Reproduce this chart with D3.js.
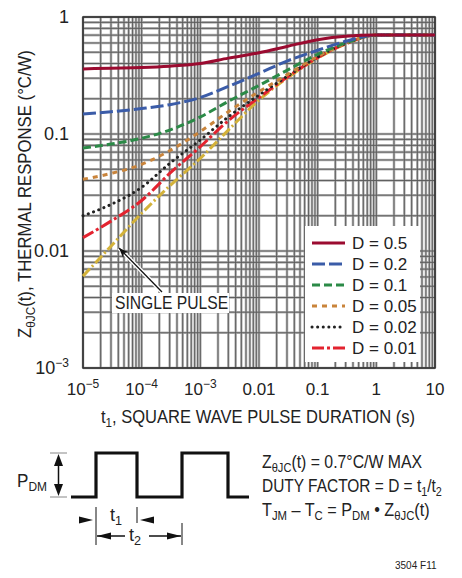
<!DOCTYPE html>
<html>
<head>
<meta charset="utf-8">
<script src="https://cdn.jsdelivr.net/npm/d3@7"></script>
<style>
  body { margin: 0; background: #fff; }
  svg text { font-family: 'Liberation Sans Narrow', 'Liberation Sans', Arial, sans-serif; fill: #222; }
</style>
</head>
<body>
<div id="chart"></div>
<script>
// pulse durations (s)
const times = [1e-5, 3e-5, 1e-4, 3e-4, 1e-3, 3e-3, 1e-2, 3e-2, 0.1, 0.3, 1, 3, 10];

// thermal response (°C/W) per duty cycle
const d50 = [0.36, 0.365, 0.37, 0.38, 0.40, 0.445, 0.495, 0.56, 0.64, 0.685, 0.70, 0.70, 0.70];
const d20 = [0.148, 0.155, 0.165, 0.178, 0.205, 0.255, 0.33, 0.42, 0.52, 0.62, 0.70, 0.70, 0.70];
const d10 = [0.076, 0.082, 0.092, 0.108, 0.14, 0.19, 0.26, 0.35, 0.48, 0.60, 0.70, 0.70, 0.70];
const d05 = [0.041, 0.046, 0.055, 0.072, 0.105, 0.155, 0.23, 0.32, 0.46, 0.595, 0.70, 0.70, 0.70];
const d02 = [0.020, 0.025, 0.035, 0.056, 0.089, 0.14, 0.215, 0.31, 0.455, 0.595, 0.70, 0.70, 0.70];
const d01 = [0.013, 0.018, 0.027, 0.046, 0.078, 0.13, 0.205, 0.305, 0.45, 0.59, 0.70, 0.70, 0.70];
const single = [0.0061, 0.011, 0.021, 0.036, 0.062, 0.108, 0.195, 0.30, 0.445, 0.59, 0.70, 0.70, 0.70];

const legendLabels = ["D = 0.5", "D = 0.2", "D = 0.1", "D = 0.05", "D = 0.02", "D = 0.01"];
const xTickLabels = [["10", "−5"], ["10", "−4"], ["10", "−3"], ["0.01"], ["0.1"], ["1"], ["10"]];
const yTickLabels = [["1"], ["0.1"], ["0.01"], ["10", "−3"]];

const series = [
  { values: d50, color: "#9b0b30", dash: null },
  { values: d20, color: "#3b5ca8", dash: "13,4" },
  { values: d10, color: "#2b8a47", dash: "8,4" },
  { values: d05, color: "#c9843b", dash: "5,5" },
  { values: d02, color: "#222", dash: "0.1,5.5", cap: "round" },
  { values: d01, color: "#e3232f", dash: "12,3,3,3" },
  { values: single, color: "#d3b23a", dash: "10,3,2,3", noLegend: true }
];

const W = 462, H = 578;
const plot = { left: 83, right: 435, top: 17, bottom: 368 };

const svg = d3.select("#chart").append("svg")
  .attr("width", W).attr("height", H);

const x = d3.scaleLog().domain([1e-5, 10]).range([plot.left, plot.right]);
const y = d3.scaleLog().domain([1e-3, 1]).range([plot.bottom, plot.top]);

// grid: every 1..9 of each decade
const xGrid = [], yGrid = [];
for (let e = -5; e <= 1; e++) for (let m = 1; m < 10; m++) {
  const v = m * Math.pow(10, e);
  if (v >= 1e-5 && v <= 10) xGrid.push(v);
}
for (let e = -3; e <= 0; e++) for (let m = 1; m < 10; m++) {
  const v = m * Math.pow(10, e);
  if (v >= 1e-3 && v <= 1) yGrid.push(v);
}

const grid = svg.append("g");
[["#b8b8b8", 2.6], ["#5c5c5c", 1]].forEach(([c, w]) => {
  grid.append("g").selectAll("line").data(xGrid).join("line")
    .attr("x1", d => x(d)).attr("x2", d => x(d))
    .attr("y1", plot.top).attr("y2", plot.bottom)
    .attr("stroke", c).attr("stroke-width", w);
  grid.append("g").selectAll("line").data(yGrid).join("line")
    .attr("y1", d => y(d)).attr("y2", d => y(d))
    .attr("x1", plot.left).attr("x2", plot.right)
    .attr("stroke", c).attr("stroke-width", w);
});

svg.append("rect")
  .attr("x", plot.left).attr("y", plot.top)
  .attr("width", plot.right - plot.left).attr("height", plot.bottom - plot.top)
  .attr("fill", "none").attr("stroke", "#333").attr("stroke-width", 1.6);

// curves (single pulse drawn first, D = 0.5 on top)
const line = d3.line()
  .x((d, i) => x(times[i]))
  .y(d => y(d))
  .curve(d3.curveMonotoneX);

svg.append("g").selectAll("path")
  .data(series.slice().reverse())
  .join("path")
  .attr("d", d => line(d.values))
  .attr("fill", "none")
  .attr("stroke", d => d.color)
  .attr("stroke-width", 3)
  .attr("stroke-linecap", d => d.cap || "butt")
  .attr("stroke-dasharray", d => d.dash);

// text with subscripts ("_" prefix), squeezed horizontally to look condensed
const label = (xPos, yPos, parts, size, sx = 1, anchor = "start", rot = 0) => {
  const t = svg.append("text")
    .attr("transform", `translate(${xPos},${yPos}) rotate(${rot}) scale(${sx},1)`)
    .attr("font-size", size).attr("text-anchor", anchor);
  let sub = false;
  parts.forEach(p => {
    const isSub = p.startsWith("_");
    const s = t.append("tspan").text(isSub ? p.slice(1) : p);
    if (isSub) s.attr("font-size", size * 0.7);
    if (isSub && !sub) s.attr("dy", 4);
    else if (!isSub && sub) s.attr("dy", -4);
    sub = isSub;
  });
  return t;
};

// y tick labels
const yTicks = [1, 0.1, 0.01, 1e-3];
const yt = svg.append("g").selectAll("text").data(yTicks).join("text")
  .attr("x", 69).attr("y", d => y(d) + 6)
  .attr("text-anchor", "end")
  .attr("font-size", 18);
yt.each(function(d, i) {
  const t = d3.select(this);
  const lab = yTickLabels[i];
  t.append("tspan").text(lab[0]);
  if (lab[1]) t.append("tspan").attr("font-size", 12).attr("dy", -7).text(lab[1]);
});

// x tick labels
const xTicks = [1e-5, 1e-4, 1e-3, 0.01, 0.1, 1, 10];
const xt = svg.append("g").selectAll("text").data(xTicks).join("text")
  .attr("x", d => x(d)).attr("y", 395)
  .attr("text-anchor", "middle")
  .attr("font-size", 17);
xt.each(function(d, i) {
  const t = d3.select(this);
  const lab = xTickLabels[i];
  t.append("tspan").text(lab[0]);
  if (lab[1]) t.append("tspan").attr("font-size", 12).attr("dy", -7).text(lab[1]);
});

// axis titles
label(258, 423, ["t", "_1", ", SQUARE WAVE PULSE DURATION (s)"], 18, 0.92, "middle");
label(31, 194, ["Z", "_θJC", "(t), THERMAL RESPONSE (°C/W)"], 18, 0.93, "middle", -90);

// legend
const lg = svg.append("g");
lg.append("rect").attr("x", 305).attr("y", 226).attr("width", 115).attr("height", 136)
  .attr("fill", "#fff");
const items = lg.selectAll("g").data(series.filter(s => !s.noLegend)).join("g")
  .attr("transform", (d, i) => `translate(0,${243 + i * 21})`);
items.append("line")
  .attr("x1", 312).attr("x2", 345)
  .attr("stroke", d => d.color).attr("stroke-width", 3)
  .attr("stroke-linecap", d => d.cap || "butt")
  .attr("stroke-dasharray", d => d.dash);
items.append("text")
  .attr("x", 352).attr("y", 6)
  .attr("font-size", 17)
  .text((d, i) => legendLabels[i]);

// single pulse annotation
svg.append("defs").append("marker")
  .attr("id", "head").attr("viewBox", "0 0 10 10")
  .attr("refX", 10).attr("refY", 5)
  .attr("markerWidth", 10).attr("markerHeight", 10)
  .attr("markerUnits", "userSpaceOnUse")
  .attr("orient", "auto")
  .append("path").attr("d", "M0,1 L10,5 L0,9 L3,5 Z").attr("fill", "#111");

svg.append("line")
  .attr("x1", 162).attr("y1", 292).attr("x2", 119).attr("y2", 248)
  .attr("stroke", "#fff").attr("stroke-width", 4);
svg.append("line")
  .attr("x1", 162).attr("y1", 292).attr("x2", 119).attr("y2", 248)
  .attr("stroke", "#111").attr("stroke-width", 1.3)
  .attr("marker-end", "url(#head)");
svg.append("rect").attr("x", 112).attr("y", 293).attr("width", 117).attr("height", 20)
  .attr("fill", "#fff");
label(115, 309, ["SINGLE PULSE"], 18, 0.87);

// pulse diagram
const pulseTop = 453, pulseBase = 497;
const wave = [[71, pulseBase], [96, pulseBase], [96, pulseTop], [137, pulseTop], [137, pulseBase],
  [182, pulseBase], [182, pulseTop], [228, pulseTop], [228, pulseBase], [249, pulseBase]];
svg.append("path").attr("d", d3.line()(wave))
  .attr("fill", "none").attr("stroke", "#111").attr("stroke-width", 3.2);

const dg = svg.append("g").attr("stroke", "#111");
dg.append("line").attr("x1", 50).attr("x2", 67).attr("y1", pulseTop).attr("y2", pulseTop).attr("stroke", "#888");
dg.append("line").attr("x1", 50).attr("x2", 67).attr("y1", pulseBase).attr("y2", pulseBase).attr("stroke", "#888");
dg.append("line").attr("x1", 58.5).attr("x2", 58.5).attr("y1", pulseTop + 6).attr("y2", pulseBase - 6).attr("stroke-width", 1.5);

const tri = (tipX, tipY, dir, len, half) => {
  if (dir === "up") return `M${tipX},${tipY} L${tipX - half},${tipY + len} L${tipX + half},${tipY + len} Z`;
  if (dir === "down") return `M${tipX},${tipY} L${tipX - half},${tipY - len} L${tipX + half},${tipY - len} Z`;
  if (dir === "left") return `M${tipX},${tipY} L${tipX + len},${tipY - half} L${tipX + len},${tipY + half} Z`;
  return `M${tipX},${tipY} L${tipX - len},${tipY - half} L${tipX - len},${tipY + half} Z`;
};
const heads = [
  [58.5, pulseTop + 1, "up", 12, 4.5], [58.5, pulseBase - 1, "down", 12, 4.5],
  [93, 520, "right", 14, 3.5], [140, 520, "left", 14, 3.5],
  [97, 536, "left", 14, 3.5], [181, 536, "right", 14, 3.5]
];
svg.append("g").selectAll("path").data(heads).join("path")
  .attr("d", d => tri(...d)).attr("fill", "#111");

dg.append("line").attr("x1", 96).attr("x2", 96).attr("y1", 507).attr("y2", 545).attr("stroke-width", 1);
dg.append("line").attr("x1", 137).attr("x2", 137).attr("y1", 507).attr("y2", 523).attr("stroke-width", 1);
dg.append("line").attr("x1", 182).attr("x2", 182).attr("y1", 523).attr("y2", 545).attr("stroke-width", 1);
dg.append("line").attr("x1", 97).attr("x2", 125).attr("y1", 536).attr("y2", 536).attr("stroke-width", 1.5);
dg.append("line").attr("x1", 149).attr("x2", 181).attr("y1", 536).attr("y2", 536).attr("stroke-width", 1.5);

label(17, 487, ["P", "_DM"], 18, 0.95);
label(110, 521, ["t", "_1"], 18);
label(129, 541, ["t", "_2"], 18);

label(262, 468, ["Z", "_θJC", "(t) = 0.7°C/W MAX"], 18, 0.88);
label(262, 492, ["DUTY FACTOR = D = t", "_1", "/t", "_2"], 18, 0.86);
label(262, 516, ["T", "_JM", " – T", "_C", " = P", "_DM", " • Z", "_θJC", "(t)"], 18, 0.9);

svg.append("text").attr("x", 395).attr("y", 569).attr("font-size", 10).text("3504 F11");
</script>
</body>
</html>
